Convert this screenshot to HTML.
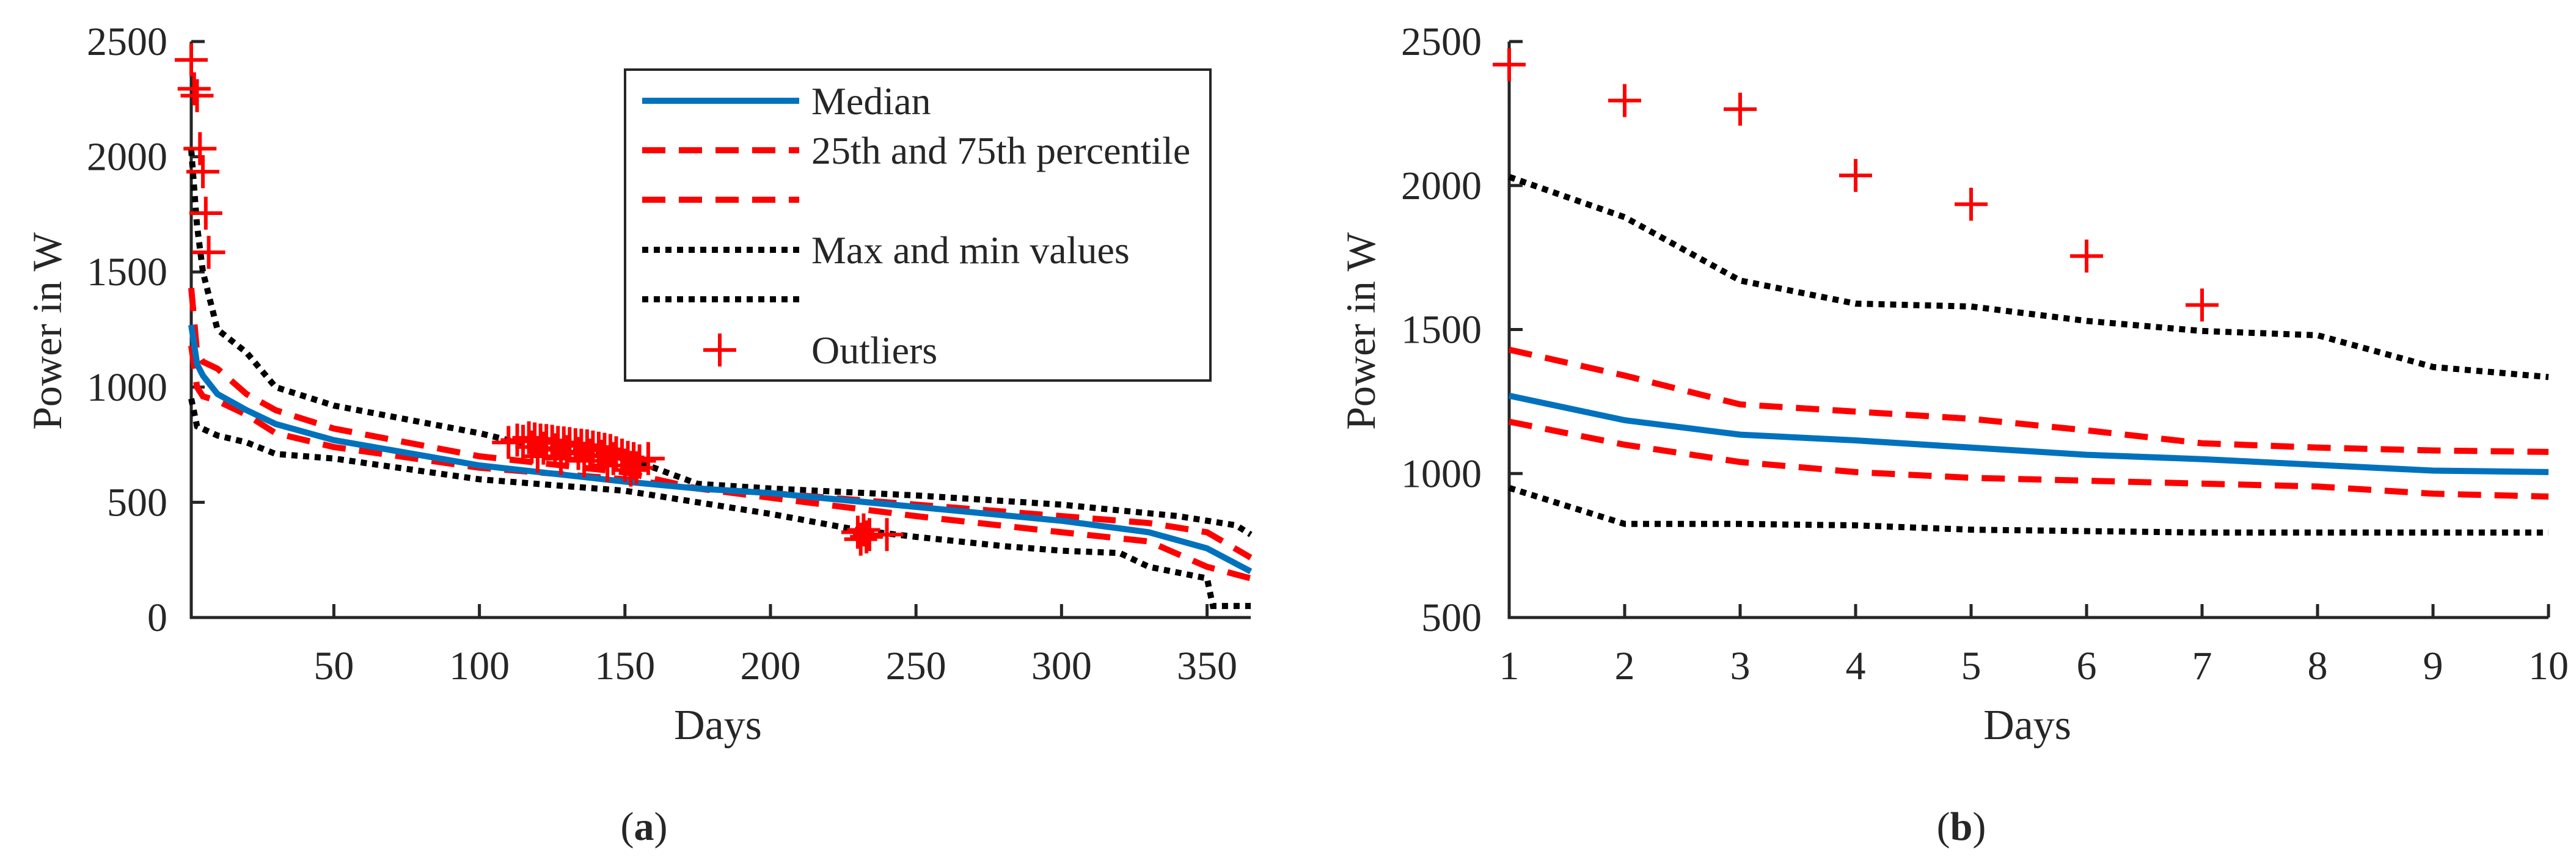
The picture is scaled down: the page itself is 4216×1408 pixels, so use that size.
<!DOCTYPE html>
<html><head><meta charset="utf-8"><style>
html,body{margin:0;padding:0;background:#fff}
svg{display:block}
text{font-family:"Liberation Serif",serif;fill:#262626}
</style></head><body>
<svg id="s" width="4216" height="1408" viewBox="0 0 4216 1408" xmlns="http://www.w3.org/2000/svg" font-family="Liberation Serif, serif">
<g id="ga"></g>
<g id="gb"></g>
</svg>
<script>
const NS="http://www.w3.org/2000/svg";
// Panel A data
const aDays=[1,3,5,10,20,30,50,100,150,175,200,250,300,330,350,365];
const aMedian=[1270,1100,1050,970,900,840,770,660,590,560,540,480,420,370,300,200];
const aP75=[1430,1150,1110,1080,970,900,820,700,630,560,540,490,440,410,370,260];
const aP25=[1180,1000,960,940,880,800,740,650,600,560,520,440,370,330,220,170];
const aMaxDays=[1,3,5,10,20,30,50,100,110,150,160,175,200,250,300,340,360,365];
const aMax=[2030,1700,1500,1250,1150,1000,920,800,770,690,650,580,560,530,490,440,400,360];
const aMinDays=[1,3,10,20,30,50,100,150,175,200,230,250,280,300,320,330,350,352,365];
const aMin=[950,830,790,760,710,690,600,550,500,450,380,350,310,290,280,220,170,50,50];
const aOutDays=[1,2,3,4,5,6,7,110,113,115,117,119,121,123,125,127,129,131,133,135,137,139,141,143,145,147,149,151,153,155,158,118,122,126,130,134,138,142,146,150,154,120,128,136,144,152,230,231,232,233,234,240];
const aOutVals=[2420,2295,2265,2035,1935,1755,1585,760,770,765,780,775,770,768,765,760,758,755,750,748,745,740,735,730,725,715,705,695,690,680,690,740,735,728,720,712,705,700,690,660,650,700,690,680,660,640,370,340,380,350,360,360];
// Panel B data
const bDays=[1,2,3,4,5,6,7,8,9,10];
const bMedian=[1270,1185,1135,1115,1090,1065,1050,1030,1010,1005];
const bP75=[1430,1340,1240,1215,1190,1150,1105,1090,1080,1075];
const bP25=[1180,1100,1040,1005,985,975,965,955,930,920];
const bMax=[2030,1890,1670,1590,1580,1530,1495,1480,1370,1335];
const bMin=[950,825,825,820,805,800,795,795,795,795];
const bOutDays=[1,2,3,4,5,6,7];
const bOutVals=[2420,2295,2265,2035,1935,1755,1585];
const aXTicks=[50,100,150,200,250,300,350];
const aYTicks=[0,500,1000,1500,2000,2500];
const bXTicks=[1,2,3,4,5,6,7,8,9,10];
const bYTicks=[500,1000,1500,2000,2500];

function el(p,t,a){const e=document.createElementNS(NS,t);for(const k in a)e.setAttribute(k,a[k]);p.appendChild(e);return e;}
function lin(d0,d1,r0,r1){return v=>r0+(v-d0)*(r1-r0)/(d1-d0);}
const FF="Liberation Serif, serif";
const styles={median:{stroke:"#0072BD","stroke-width":10},
 p:{stroke:"#FF0000","stroke-width":10,"stroke-dasharray":"38 22"},
 mm:{stroke:"#000","stroke-width":10,"stroke-dasharray":"10 9"}};
function line(g,xs,ys,X,Y,st,name){
  const d=xs.map((x,i)=>(i?"L":"M")+X(x).toFixed(1)+","+Y(ys[i]).toFixed(1)).join("");
  const p=el(g,"path",Object.assign({d,fill:"none"},st));
  
  
}
function plus(g,cx,cy,name){
  const p=el(g,"path",{d:`M${cx-27},${cy}H${cx+27}M${cx},${cy-27}V${cy+27}`,stroke:"#FF0000","stroke-width":6,fill:"none"});
  
  
}
function txt(g,a,s){const t=el(g,"text",Object.assign({"font-family":FF,fill:"#262626"},a));t.textContent=s;return t;}
function axes(g,X,Y,x0,x1,y0,y1,xt,yt,ylx,labRight,dayX,cap,capX){
  const ax=el(g,"path",{d:`M${X(x0)},${Y(y1)}V${Y(y0)}H${X(x1)}`,stroke:"#262626","stroke-width":5,fill:"none"});
  
  xt.forEach(t=>{el(g,"line",{x1:X(t),x2:X(t),y1:Y(y0),y2:Y(y0)-22,stroke:"#262626","stroke-width":5});
    const tx=txt(g,{x:X(t),y:1112,"font-size":66,"text-anchor":"middle"},t);
    });
  yt.forEach(t=>{el(g,"line",{x1:X(x0),x2:X(x0)+22,y1:Y(t),y2:Y(t),stroke:"#262626","stroke-width":5});
    const tx=txt(g,{x:labRight,y:Y(t)+22,"font-size":66,"text-anchor":"end"},t);
    });
  const yl=txt(g,{x:ylx,y:542,"font-size":68,"text-anchor":"middle",transform:`rotate(-90 ${ylx} 542)`},"Power in W");
  
  const xl=txt(g,{x:dayX,y:1210,"font-size":70,"text-anchor":"middle"},"Days");
  
  const c=el(g,"text",{x:capX,y:1375,"font-size":66,"text-anchor":"middle","font-family":FF,fill:"#262626"});
  c.innerHTML='(<tspan font-weight="bold">'+cap+'</tspan>)';
  
}
// Panel A
const ga=document.getElementById("ga");
const XA=lin(1,365,313,2047),YA=lin(0,2500,1011,68);
axes(ga,XA,YA,1,365,0,2500,aXTicks,aYTicks,100,274,1175,"a",1054);
line(ga,aMaxDays,aMax,XA,YA,styles.mm,"max-line");
line(ga,aMinDays,aMin,XA,YA,styles.mm,"min-line");
line(ga,aDays,aP75,XA,YA,styles.p,"p75-line");
line(ga,aDays,aP25,XA,YA,styles.p,"p25-line");
line(ga,aDays,aMedian,XA,YA,styles.median,"median-line");
aOutDays.forEach((d,i)=>plus(ga,XA(d),YA(aOutVals[i]),"outlier"));
// Legend
const lg=el(ga,"g",{});
el(lg,"rect",{x:1023,y:114,width:958,height:509,fill:"#fff",stroke:"#262626","stroke-width":4});
const leg=[["Median","median",165],["25th and 75th percentile","p",246],["","p",327],["Max and min values","mm",409],["","mm",490]];
leg.forEach(([t,s,y])=>{const l=el(lg,"line",Object.assign({x1:1051,x2:1308,y1:y,y2:y},styles[s]));
  
  if(t){const tx=txt(lg,{x:1328,y:y+22,"font-size":64},t);
  }});
plus(lg,1178,573,"legend-outlier-marker");
const lo=txt(lg,{x:1328,y:595,"font-size":64},"Outliers");

// Panel B
const gb=document.getElementById("gb");
const XB=lin(1,10,2470,4171),YB=lin(500,2500,1011,68);
axes(gb,XB,YB,1,10,500,2500,bXTicks,bYTicks,2250,2425,3318,"b",3210);
line(gb,bDays,bMax,XB,YB,styles.mm,"max-line");
line(gb,bDays,bMin,XB,YB,styles.mm,"min-line");
line(gb,bDays,bP75,XB,YB,styles.p,"p75-line");
line(gb,bDays,bP25,XB,YB,styles.p,"p25-line");
line(gb,bDays,bMedian,XB,YB,styles.median,"median-line");
bOutDays.forEach((d,i)=>plus(gb,XB(d),YB(bOutVals[i]),"outlier"));
</script>
</body></html>
